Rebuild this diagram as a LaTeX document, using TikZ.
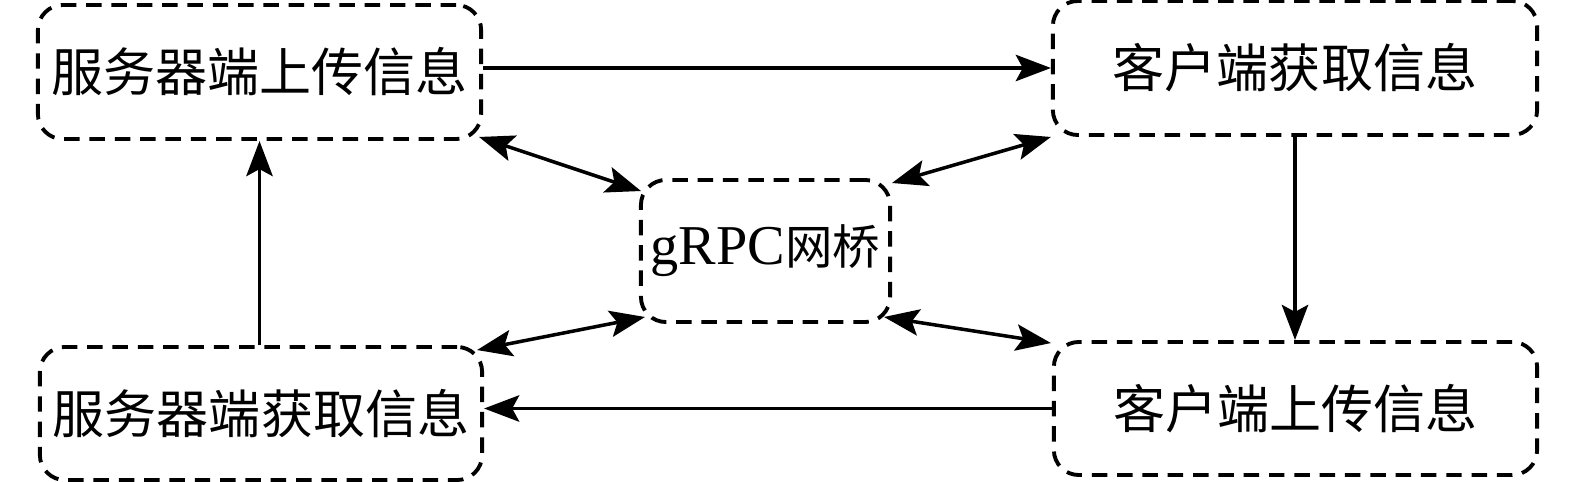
\documentclass[tikz,border=0pt]{standalone}
\usepackage{fontspec}
\setmainfont{Liberation Serif}
\newfontfamily\cjk{Noto Sans CJK SC}
\usetikzlibrary{arrows.meta,calc}
\begin{document}
\begin{tikzpicture}[x=0.01cm,y=-0.01cm,
  box/.style={draw, dash pattern=on 4.4pt off 2.8pt, line width=1.1pt,
    rounded corners=0.25cm, inner sep=0pt,
    font=\cjk\fontsize{14.8pt}{17pt}\selectfont},
  arr/.style={line width=1pt, -{Stealth[length=10pt,width=7.5pt,inset=2pt]}},
  darr/.style={line width=1pt, {Stealth[length=10pt,width=7.5pt,inset=2pt]}-{Stealth[length=10pt,width=7.5pt,inset=2pt]}}]
\useasboundingbox (0,0) rectangle (1575,482);
\node[box, minimum width=4.43cm, minimum height=1.34cm] (b1) at (259.5,72) {服务器端上传信息};
\node[box, minimum width=4.84cm, minimum height=1.34cm] (b2) at (1295,68) {客户端获取信息};
\node[box, minimum width=2.49cm, minimum height=1.42cm, font=\cjk\fontsize{13.5pt}{16pt}\selectfont] (g) at (765.5,251) {{\rmfamily\fontsize{16pt}{18pt}\selectfont gRPC}网桥};
\node[box, minimum width=4.42cm, minimum height=1.33cm] (b4) at (261,413.5) {服务器端获取信息};
\node[box, minimum width=4.83cm, minimum height=1.33cm] (b5) at (1295.5,408.5) {客户端上传信息};
\draw[arr] ($(b1.east)+(0,-4)$) -- ($(b1.east -| b2.west)+(0,-4)$);
\draw[arr] (b2.south) -- (b2.south |- b5.north);
\draw[arr] (b5.west) -- (b5.west -| b4.east);
\draw[arr] (b1.south |- b4.north) -- (b1.south);
\draw[darr] ($(b1.south east)+(-4,-4)$) -- ($(g.north west)+(2,13)$);
\draw[darr] ($(g.north east)+(0,5)$) -- (b2.south west);
\draw[darr] ($(g.south west)+(6,-7)$) -- ($(b4.north east)+(-7,5)$);
\draw[darr] ($(g.south east)+(-8,-7)$) -- ($(b5.north west)+(-1,3)$);
\end{tikzpicture}
\end{document}
